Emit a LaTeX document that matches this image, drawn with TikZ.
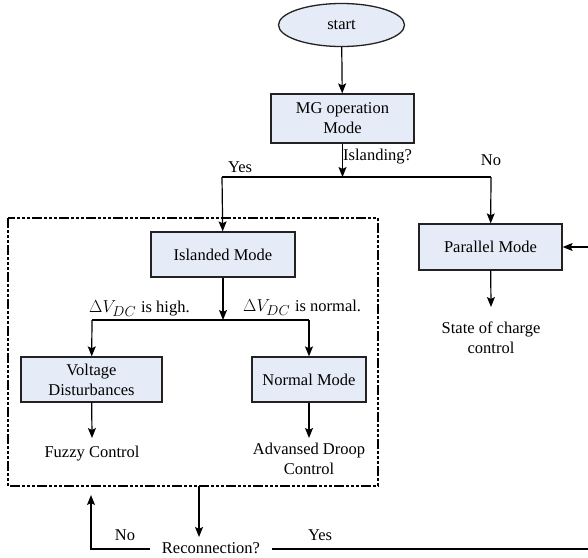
\documentclass[tikz,border=0pt]{standalone}
\usepackage{fontspec}
\setmainfont{Liberation Serif}
\usetikzlibrary{arrows.meta,shapes.geometric}
\definecolor{boxfill}{HTML}{E6ECF7}
\definecolor{boxline}{HTML}{222222}
\tikzset{
  pbox/.style={draw=boxline, line width=1.3pt, fill=boxfill, rectangle, align=center, inner sep=0pt},
  lbl/.style={inner sep=0pt, align=center},
  conn/.style={line width=1.2pt, draw=black},
  arr/.style={conn, -{Stealth[length=10pt,width=8pt,inset=2pt]}},
}
\begin{document}
\begin{tikzpicture}[x=1pt,y=-1pt,font=\fontsize{16.5}{20}\selectfont]
\clip (0,0) rectangle (588,557);
\fill[white] (0,0) rectangle (588,557);
% nodes
\node[pbox, ellipse, minimum width=126pt, minimum height=43pt] (start) at (341.5,25) {start};
\node[pbox, minimum width=143pt, minimum height=49pt] (mg) at (342.5,118.5) {MG operation\\Mode};
\node[pbox, minimum width=144pt, minimum height=45pt] (isl) at (223,254.5) {Islanded Mode};
\node[pbox, minimum width=143pt, minimum height=46pt] (par) at (490.5,247) {Parallel Mode};
\node[pbox, minimum width=141pt, minimum height=45pt] (vd) at (91.5,379.5) {Voltage\\Disturbances};
\node[pbox, minimum width=114pt, minimum height=45pt] (nm) at (309,379.5) {Normal Mode};
\node[lbl] (fuzzy) at (92,454) {Fuzzy Control};
\node[lbl] (adc) at (309,459) {Advansed Droop\\Control};
\node[lbl] (soc) at (491,338) {State of charge\\control};
\node[lbl, inner xsep=12pt, inner ysep=3pt] (rec) at (211,548) {Reconnection?};
% labels
\node[lbl, anchor=west] (lisl) at (343,157) {Islanding?};
\node[lbl] (lyes1) at (240,167) {Yes};
\node[lbl] (lno1) at (491,160) {No};
\node[lbl, anchor=west] (lhigh) at (89,309) {{\fontsize{19}{20}\selectfont$\Delta V_{DC}$}\hspace{5pt}is high.};
\node[lbl, anchor=west] (lnorm) at (243,308) {{\fontsize{19}{20}\selectfont$\Delta V_{DC}$}\hspace{5pt}is normal.};
\node[lbl] (lno2) at (125,535) {No};
\node[lbl] (lyes2) at (320,535) {Yes};
% coordinates
\coordinate (j1) at (342.5,177);
\coordinate (jl) at (222,177);
\coordinate (jr) at (491,177);
\coordinate (j2) at (223,320);
\coordinate (l2) at (92,320);
\coordinate (r2) at (309,320);
\coordinate (db) at (199,486);
\coordinate (dbt) at (199,537);
\coordinate (nl) at (91,549);
\coordinate (nt) at (91,495);
\coordinate (yr) at (600,549);
\coordinate (yt) at (600,247);
\coordinate (soct) at (491,307);
\coordinate (fzt) at (92,438);
\coordinate (adt) at (309,438);
% dashed region
\draw[line width=1.1pt, dash pattern=on 10pt off 2pt on 3pt off 2pt on 3pt off 2pt on 3pt off 2pt] (8,218) rectangle (378,486);
% connectors
\draw[arr] (start) -- (mg);
\draw[arr] (mg) -- (j1);
\draw[conn] (jl) -- (jr);
\draw[arr] (jl) -- (isl);
\draw[arr] (jr) -- (par);
\draw[arr] (par) -- (soct);
\draw[arr] (isl) -- (j2);
\draw[conn] (l2) -- (r2);
\draw[arr] (l2) -- (vd);
\draw[arr] (r2) -- (nm);
\draw[arr] (vd) -- (fzt);
\draw[arr] (nm) -- (adt);
\draw[arr] (db) -- (dbt);
\draw[arr] (rec.west |- nl) -- (nl) -- (nt);
\draw[arr] (rec.east |- yr) -- (yr) -- (yt) -- (par.east);
\end{tikzpicture}
\end{document}
